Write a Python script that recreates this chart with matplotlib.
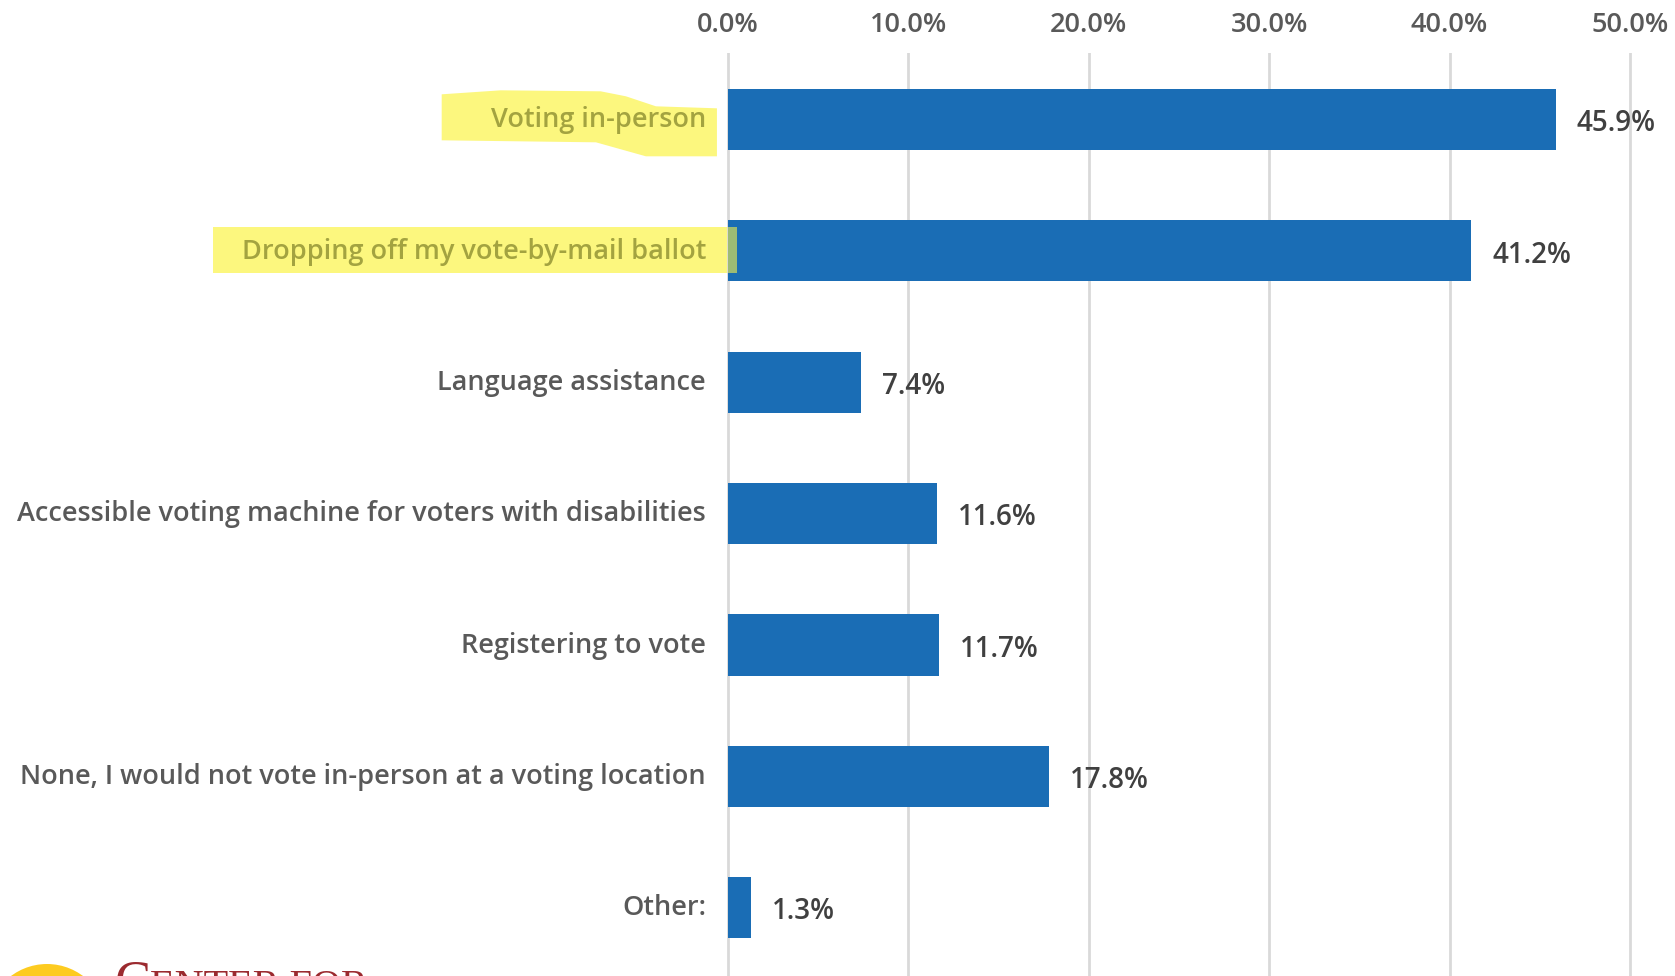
import matplotlib
matplotlib.use("Agg")
import matplotlib.pyplot as plt
from matplotlib.patches import Circle, Polygon
from matplotlib.ticker import PercentFormatter
from matplotlib.transforms import IdentityTransform, ScaledTranslation

CATEGORIES = [
    "Voting in-person",
    "Dropping off my vote-by-mail ballot",
    "Language assistance",
    "Accessible voting machine for voters with disabilities",
    "Registering to vote",
    "None, I would not vote in-person at a voting location",
    "Other:",
]
SHARES = [45.9, 41.2, 7.4, 11.6, 11.7, 17.8, 1.3]
X_TICKS = [0, 10, 20, 30, 40, 50]
HIGHLIGHTED = ["Voting in-person", "Dropping off my vote-by-mail ballot"]

plt.rcParams["font.family"] = ["Open Sans", "DejaVu Sans"]

BLUE = "#1a6db5"
LABEL_GREY = "#595959"
VALUE_GREY = "#404040"
GRID_GREY = "#d9d9d9"
MARKER = "#fcf77e"
MARKED_TEXT = "#a3a340"

W, H = 1675, 976
fig = plt.figure(figsize=(W / 100, H / 100), dpi=100)
# 18.04 px per percentage point, zero line at x=728 px
ax = fig.add_axes([722.6 / W, 0, 952.4 / W, 923 / H])
ax.set_facecolor("none")

ypos = list(range(len(CATEGORIES)))
ax.barh(ypos, SHARES, height=0.465, color=BLUE, zorder=2)
ax.set_xlim(-0.3, 52.5)
ax.set_ylim(6.52, -0.507)

ax.set_xticks(X_TICKS)
ax.xaxis.set_major_formatter(PercentFormatter(decimals=1))
ax.xaxis.tick_top()
ax.tick_params(axis="x", length=0, pad=10, labelsize=19.5, labelcolor=LABEL_GREY)
for lab in ax.get_xticklabels():
    lab.set_fontweight("semibold")
ax.set_yticks(ypos)
ax.set_yticklabels(CATEGORIES, fontweight="semibold")
ax.tick_params(axis="y", length=0, pad=12, labelsize=19.5, labelcolor=LABEL_GREY)
lift = ScaledTranslation(0, 2 / 72, fig.dpi_scale_trans)
for lab in ax.get_yticklabels():
    lab.set_transform(lab.get_transform() + lift)
    if lab.get_text() in HIGHLIGHTED:
        lab.set_color(MARKED_TEXT)
ax.grid(axis="x", color=GRID_GREY, lw=2)
ax.set_axisbelow(True)
for spine in ax.spines.values():
    spine.set_visible(False)

for y, v in zip(ypos, SHARES):
    ax.annotate(f"{v:.1f}%", (v, y), xytext=(15, -3), textcoords="offset points",
                ha="left", va="center", fontsize=20, fontweight="semibold",
                color=VALUE_GREY)

# marker-pen highlights behind two of the labels
fig.canvas.draw()
renderer = fig.canvas.get_renderer()
zero_x = ax.transData.transform((0, 0))[0]
for lab in ax.get_yticklabels():
    if lab.get_text() not in HIGHLIGHTED:
        continue
    bb = lab.get_window_extent(renderer)
    cy = (bb.y0 + bb.y1) / 2
    if lab.get_text() == HIGHLIGHTED[0]:
        pts = [(bb.x0 - 49, cy + 26), (bb.x0 + 10, cy + 30), (bb.x0 + 110, cy + 29),
               (bb.x1 - 80, cy + 24), (bb.x1 - 50, cy + 14), (bb.x1 + 11, cy + 12),
               (bb.x1 + 11, cy - 36), (bb.x1 - 60, cy - 36), (bb.x1 - 110, cy - 22),
               (bb.x0 - 49, cy - 20)]
    else:
        pts = [(bb.x0 - 29, cy + 25), (zero_x, cy + 25),
               (zero_x, cy - 21), (bb.x0 - 29, cy - 21)]
        # the stroke runs a few pixels onto the start of the bar
        tip = [(zero_x, cy + 25), (zero_x + 9, cy + 25),
               (zero_x + 9, cy - 21), (zero_x, cy - 21)]
        fig.add_artist(Polygon(tip, closed=True, transform=IdentityTransform(),
                               facecolor="#f5f04a", edgecolor="none", alpha=0.6,
                               zorder=10))
    fig.add_artist(Polygon(pts, closed=True, transform=IdentityTransform(),
                           facecolor=MARKER, edgecolor="none", zorder=-1))

# logo peeking in at the bottom edge
fig.add_artist(Circle((47, H - 1024), 60, transform=IdentityTransform(),
                      facecolor="#fdcb20", edgecolor="none"))
fig.text(115 / W, (H - 997) / H, "C", fontsize=39, color="#9b2a2f",
         family="Liberation Serif", va="baseline", ha="left")
fig.text(150 / W, (H - 997) / H, "ENTER FOR", fontsize=29, color="#9b2a2f",
         family="Liberation Serif", va="baseline", ha="left")

fig.savefig("out.png", dpi=100)
